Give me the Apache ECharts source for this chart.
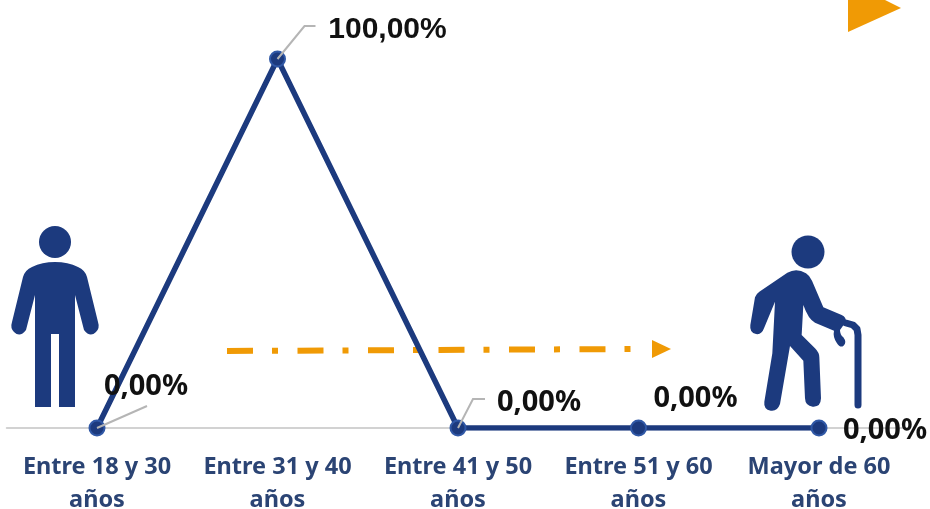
<!DOCTYPE html>
<html><head><meta charset="utf-8">
<style>html,body{margin:0;padding:0;background:#fff}#c{width:930px;height:509px}</style>
<script src="https://cdn.jsdelivr.net/npm/echarts@6/dist/echarts.min.js"></script>
</head><body><div id="c"></div>
<script>
const categories = ['Entre 18 y 30\naños','Entre 31 y 40\naños','Entre 41 y 50\naños','Entre 51 y 60\naños','Mayor de 60\naños'];
const values = [0,100,0,0,0];
const valueLabels = ['0,00%','100,00%','0,00%','0,00%','0,00%'];

const NAVY='#1c3a7e', ORANGE='#f09a05';
const labelOffsets=[[49,-41],[110,-29],[81,-25],[57,-29],[66,3]];
const leaders=[[[0,0],[50,-22]],[[0,0],[27,-33],[38,-33]],[[0,0],[15,-29],[27,-29]],null,null];

const manPath='M35 407L51 407L51 334L59 334L59 407L75 407L75 295L84 330Q90 338 96 332Q100 328 98 322L87 277Q85 270 78 267Q68 262 55 262Q42 262 32 267Q25 270 23 277L12 322Q10 328 14 332Q20 338 26 330L35 295Z';
const oldPath='M262 158Q290 142 318 160Q330 168 336 182L370 262L425 285Q440 292 437 306L420 330Q420 345 430 352Q442 368 430 378Q420 384 410 368Q398 350 402 332L345 308Q325 298 310 255L305 345L345 385Q358 398 358 412L363 535Q362 562 338 560Q316 558 315 535L310 422L270 378L240 552Q232 575 212 572Q190 568 193 545L217 400L225 245L192 325Q185 345 168 342Q148 338 151 315L165 232Q168 222 178 215Z';

const chart=echarts.init(document.getElementById('c'),null,{renderer:'canvas'});
const staticGraphic=[
 {type:'polygon',z:1,shape:{points:[[848,0],[885,0],[901,8],[848,32]]},style:{fill:ORANGE}},
 {type:'circle',z:1,shape:{cx:55,cy:242,r:16},style:{fill:NAVY}},
 {type:'circle',z:1,shape:{cx:808,cy:252,r:16.5},style:{fill:NAVY}},
 {type:'polyline',z:1,shape:{points:[[858,405],[858,335],[857,329],[853,325],[846,323]]},style:{fill:null,stroke:NAVY,lineWidth:7,lineCap:'round',lineJoin:'round'}},
 {type:'polyline',z:1,shape:{points:[[227,351],[632,349]]},style:{fill:null,stroke:ORANGE,lineWidth:6,lineDash:[26,19,6,19.5]}},
 {type:'polygon',z:1,shape:{points:[[652,340],[671,349],[652,358]]},style:{fill:ORANGE}}
];
chart.setOption({
 animation:false,
 backgroundColor:'#fff',
 grid:{left:6.75,right:20.75,top:59,bottom:81,outerBoundsMode:'none'},
 xAxis:{type:'category',data:categories,
  axisLine:{lineStyle:{color:'#d2d2d2',width:2}},axisTick:{show:false},
  axisLabel:{interval:0,color:'#2b4474',fontFamily:'Noto Sans',fontWeight:'bold',fontSize:23.5,lineHeight:33,margin:23}},
 yAxis:{type:'value',min:0,max:100,interval:100,show:false,splitLine:{show:false}},
 series:[{type:'line',
  data:values.map((v,i)=>i===1?{value:v,label:{fontFamily:'Liberation Sans',fontSize:30,fontWeight:'bold'}}:v),
  symbol:'circle',symbolSize:15,z:5,
  lineStyle:{color:NAVY,width:5.5},
  itemStyle:{color:NAVY,borderColor:'#3058a6',borderWidth:2},
  label:{show:true,position:'inside',color:'#111',fontWeight:'bold',fontFamily:'Noto Sans',
   formatter:p=>valueLabels[p.dataIndex],fontSize:29},
  labelLayout:p=>({dx:labelOffsets[p.dataIndex][0],dy:labelOffsets[p.dataIndex][1]})
 },{
  type:'custom',coordinateSystem:'none',data:[0],silent:true,z:1,
  renderItem:()=>({type:'group',children:[
   {type:'path',shape:{pathData:manPath},style:{fill:NAVY}},
   {type:'path',x:700,y:220,scaleX:1/3,scaleY:1/3,shape:{pathData:oldPath},style:{fill:NAVY}}
  ]})
 }],
 graphic:staticGraphic
});
const lines=leaders.map((l,i)=>{
 if(!l)return null;
 const [px,py]=chart.convertToPixel({seriesIndex:0},[i,values[i]]);
 return {type:'polyline',z:10,shape:{points:l.map(o=>[px+o[0],py+o[1]])},style:{fill:null,stroke:'#b5b5b5',lineWidth:2}};
}).filter(Boolean);
chart.setOption({graphic:staticGraphic.concat(lines)});
</script></body></html>
